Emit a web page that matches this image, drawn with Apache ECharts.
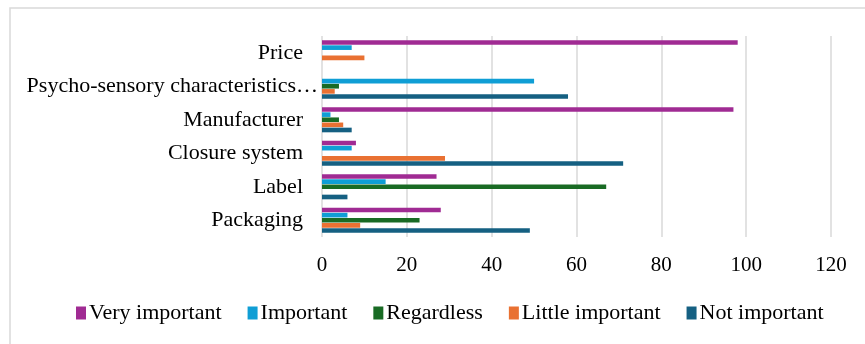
<!DOCTYPE html>
<html lang="en" style="height: 100%">
<head>
  <meta charset="utf-8">
</head>
<body style="height: 100%; margin: 0">
  <div id="container" style="width: 865px; height: 344px"></div>

  <script type="text/javascript" src="https://fastly.jsdelivr.net/npm/echarts@6/dist/echarts.min.js"></script>
  <script type="text/javascript">
    // categories, top to bottom
    var categories = ['Price', 'Psycho-sensory characteristics…', 'Manufacturer', 'Closure system', 'Label', 'Packaging'];

    var veryImportant   = [98, 0, 97, 8, 27, 28];
    var important       = [7, 50, 2, 7, 15, 6];
    var regardless      = [0, 4, 4, 0, 67, 23];
    var littleImportant = [10, 3, 5, 29, 0, 9];
    var notImportant    = [0, 58, 7, 71, 6, 49];

    var xTicks = [0, 20, 40, 60, 80, 100, 120];

    var dom = document.getElementById('container');
    var myChart = echarts.init(dom, null, { renderer: 'canvas' });

    var font = 'Liberation Serif, Times New Roman, serif';

    function bar(name, values, color) {
      return {
        name: name,
        type: 'bar',
        data: values,
        barGap: '10%',
        barCategoryGap: '25%',
        itemStyle: { color: color },
        emphasis: { disabled: true }
      };
    }

    var option = {
      animation: false,
      backgroundColor: '#ffffff',
      textStyle: { fontFamily: font, color: '#000' },
      graphic: [{
        type: 'rect',
        silent: true,
        shape: { x: 10, y: 8, width: 900, height: 400 },
        style: { fill: 'none', stroke: '#d9d9d9', lineWidth: 1.5 }
      }],
      grid: { left: 322, right: 34, top: 36, height: 201 },
      legend: {
        left: 71,
        top: 297,
        itemWidth: 10,
        itemHeight: 13,
        itemGap: 26,
        icon: 'rect',
        textStyle: { fontFamily: font, fontSize: 22, color: '#000', padding: [0, 0, 0, -2] },
        data: ['Very important', 'Important', 'Regardless', 'Little important', 'Not important']
      },
      xAxis: {
        type: 'value',
        min: xTicks[0],
        max: xTicks[xTicks.length - 1],
        interval: 20,
        axisLine: { show: false },
        axisTick: { show: false },
        axisLabel: { fontFamily: font, fontSize: 21, color: '#000', margin: 18 },
        splitLine: { lineStyle: { color: '#d9d9d9', width: 1.5 } }
      },
      yAxis: {
        type: 'category',
        inverse: true,
        data: categories,
        axisLine: { show: false },
        axisTick: { show: false },
        axisLabel: {
          margin: 4,
          formatter: function (v, i) {
            return i === 1 ? '{p|' + v + '}' : '{n|' + v + '}';
          },
          rich: {
            n: { fontFamily: font, fontSize: 22, color: '#000', padding: [0, 15, 0, 0] },
            p: { fontFamily: font, fontSize: 22, color: '#000' }
          }
        }
      },
      series: [
        bar('Very important', veryImportant, '#A02B93'),
        bar('Important', important, '#0F9ED5'),
        bar('Regardless', regardless, '#196B24'),
        bar('Little important', littleImportant, '#E97132'),
        bar('Not important', notImportant, '#156082')
      ]
    };

    myChart.setOption(option);
    window.addEventListener('resize', myChart.resize);
  </script>
</body>
</html>
